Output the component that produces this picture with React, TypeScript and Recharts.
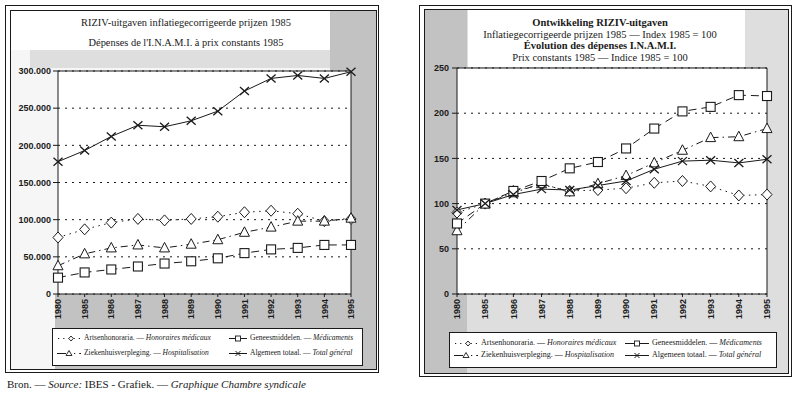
import React from "react";
import {
  CartesianGrid,
  Line,
  LineChart,
  ReferenceLine,
  XAxis,
  YAxis,
} from "recharts";

// jaren op de x-as
const years = ["1980", "1985", "1986", "1987", "1988", "1989", "1990", "1991", "1992", "1993", "1994", "1995"];

// links: prijzen 1985 (absolute bedragen)
const honorairesAbs = [76000, 87000, 96000, 101000, 99000, 101000, 104000, 110000, 112000, 108000, 98000, 101000];
const medicamentsAbs = [22000, 29000, 33000, 37000, 41000, 44000, 48000, 55000, 60000, 62000, 66000, 66000];
const hospitalisationAbs = [38000, 54000, 62000, 66000, 62000, 67000, 73000, 83000, 90000, 98000, 98000, 102000];
const totalAbs = [178000, 193000, 212000, 227000, 225000, 233000, 246000, 273000, 290000, 294000, 290000, 299000];
const absTicks = [0, 50000, 100000, 150000, 200000, 250000, 300000];

// rechts: index 1985 = 100
const honorairesIdx = [90, 100, 114, 121, 114, 115, 117, 123, 125, 119, 109, 110];
const medicamentsIdx = [78, 100, 114, 125, 139, 146, 161, 183, 202, 207, 220, 219];
const hospitalisationIdx = [70, 100, 112, 122, 113, 122, 131, 145, 159, 173, 174, 183];
const totalIdx = [93, 100, 110, 116, 115, 120, 125, 138, 147, 148, 145, 149];
const idxTicks = [0, 50, 100, 150, 200, 250];

const INK = "#1a1a1a";
const SERIF = "'Liberation Serif', 'Times New Roman', 'DejaVu Serif', serif";
const SANS = "'Liberation Sans Narrow', 'Liberation Sans', Arial, sans-serif";
const HEAVY = "#c2c2c2";
const LIGHT = "#dedede";

const absData = years.map((y, i) => ({
  year: y,
  hon: honorairesAbs[i],
  med: medicamentsAbs[i],
  hosp: hospitalisationAbs[i],
  tot: totalAbs[i],
}));

const idxData = years.map((y, i) => ({
  year: y,
  hon: honorairesIdx[i],
  med: medicamentsIdx[i],
  hosp: hospitalisationIdx[i],
  tot: totalIdx[i],
}));

function fmtThousands(v: number): string {
  return String(v).replace(/\B(?=(\d{3})+(?!\d))/g, ".");
}

type DotProps = { cx?: number; cy?: number; index?: number };

function Diamond({ cx = 0, cy = 0 }: DotProps) {
  return (
    <path
      d={`M${cx},${cy - 5.5}L${cx + 5},${cy}L${cx},${cy + 5.5}L${cx - 5},${cy}Z`}
      fill="#fff"
      stroke={INK}
      strokeWidth={1}
    />
  );
}

function Square({ cx = 0, cy = 0 }: DotProps) {
  return <rect x={cx - 4.5} y={cy - 4.5} width={9} height={9} fill="#fff" stroke={INK} strokeWidth={1.1} />;
}

function Triangle({ cx = 0, cy = 0 }: DotProps) {
  return (
    <path
      d={`M${cx},${cy - 5.5}L${cx + 5},${cy + 4}L${cx - 5},${cy + 4}Z`}
      fill="#fff"
      stroke={INK}
      strokeWidth={1}
    />
  );
}

function Cross({ cx = 0, cy = 0 }: DotProps) {
  return (
    <path
      d={`M${cx - 4.5},${cy - 4}L${cx + 4.5},${cy + 4}M${cx - 4.5},${cy + 4}L${cx + 4.5},${cy - 4}`}
      stroke={INK}
      strokeWidth={1.3}
      fill="none"
    />
  );
}

const dotFn = (Shape: (p: DotProps) => React.ReactElement) => (p: any) => (
  <g key={`d-${p.index}`}>
    <Shape cx={p.cx} cy={p.cy} />
  </g>
);

function YearTick({ x, y, payload }: any) {
  return (
    <text
      transform={`translate(${x},${y + 1}) rotate(-90)`}
      textAnchor="end"
      dy="0.35em"
      fontSize={9}
      fontWeight={700}
      fontFamily={SANS}
      fill={INK}
    >
      {payload.value}
    </text>
  );
}

const yTickStyle = { fontSize: 9, fontWeight: 700, fill: INK, fontFamily: SANS };

function Series() {
  return [
    <Line key="hon" dataKey="hon" stroke={INK} strokeWidth={1} strokeDasharray="1.5 4.5" dot={dotFn(Diamond)} isAnimationActive={false} />,
    <Line key="hosp" dataKey="hosp" stroke={INK} strokeWidth={1} strokeDasharray="7 4 1.5 4" dot={dotFn(Triangle)} isAnimationActive={false} />,
    <Line key="med" dataKey="med" stroke={INK} strokeWidth={1} strokeDasharray="8 5" dot={dotFn(Square)} isAnimationActive={false} />,
    <Line key="tot" dataKey="tot" stroke={INK} strokeWidth={1} dot={dotFn(Cross)} isAnimationActive={false} />,
  ];
}

function Sample({ kind, w }: { kind: "hon" | "med" | "hosp" | "tot"; w: number }) {
  const cy = 4.5;
  const m = w / 2;
  let line: React.ReactNode = null;
  let mark: React.ReactNode = null;
  if (kind === "hon") {
    line = <line x1={1} x2={w} y1={cy} y2={cy} stroke={INK} strokeDasharray="1.2 4" strokeWidth={1.2} />;
    mark = <path d={`M${m + 2},${cy - 2.5}L${m + 4.3},${cy}L${m + 2},${cy + 2.5}L${m - 0.3},${cy}Z`} fill="#fff" stroke={INK} strokeWidth={0.9} />;
  } else if (kind === "med") {
    line = <line x1={0} x2={w} y1={cy} y2={cy} stroke={INK} strokeWidth={1} />;
    mark = <rect x={m - 2.5} y={cy - 2.5} width={5} height={5} fill="#fff" stroke={INK} strokeWidth={0.9} />;
  } else if (kind === "hosp") {
    line = <line x1={0} x2={w} y1={cy} y2={cy} stroke={INK} strokeDasharray={`${m - 3} 8 1.2 4`} strokeWidth={1} />;
    mark = <path d={`M${m},${cy - 3}L${m + 3},${cy + 2}L${m - 3},${cy + 2}Z`} fill="#fff" stroke={INK} strokeWidth={0.9} />;
  } else {
    line = <line x1={0} x2={w} y1={cy} y2={cy} stroke={INK} strokeWidth={1} />;
    mark = <path d={`M${m - 2.5},${cy - 2.5}L${m + 2.5},${cy + 2.5}M${m - 2.5},${cy + 2.5}L${m + 2.5},${cy - 2.5}`} stroke={INK} strokeWidth={1} />;
  }
  return (
    <svg width={w} height={9} style={{ display: "inline-block", verticalAlign: "middle", marginRight: 3 }}>
      {line}
      {mark}
    </svg>
  );
}

function LegendItem({ kind, nl, fr, x, y, w, fs }: any) {
  return (
    <div
      style={{
        position: "absolute",
        left: x,
        top: y,
        whiteSpace: "nowrap",
        fontFamily: SERIF,
        fontSize: fs,
        lineHeight: "10px",
        color: INK,
      }}
    >
      <Sample kind={kind} w={w} />
      {nl} — <i>{fr}</i>
    </div>
  );
}

function Legend({ left, top, width, height, col2, row1, row2, w1, w2, fs }: any) {
  return (
    <div
      style={{
        position: "absolute",
        left,
        top,
        width,
        height,
        background: "#fff",
        border: `1px solid ${INK}`,
        boxSizing: "border-box",
      }}
    >
      <LegendItem kind="hon" nl="Artsenhonoraria." fr="Honoraires médicaux" x={4} y={row1} w={w1} fs={fs} />
      <LegendItem kind="med" nl="Geneesmiddelen." fr="Médicaments" x={col2} y={row1} w={w2} fs={fs} />
      <LegendItem kind="hosp" nl="Ziekenhuisverpleging." fr="Hospitalisation" x={4} y={row2} w={w1} fs={fs} />
      <LegendItem kind="tot" nl="Algemeen totaal." fr="Total général" x={col2} y={row2} w={w2} fs={fs} />
    </div>
  );
}

const box = (left: number, top: number, width: number, height: number, bg: string, extra?: any) => (
  <div style={{ position: "absolute", left, top, width, height, background: bg, ...extra }} />
);

export default function App() {
  return (
    <div
      style={{
        position: "absolute",
        left: 0,
        top: 0,
        width: 800,
        height: 396,
        background: "#fff",
        overflow: "hidden",
        fontFamily: SERIF,
      }}
    >
      {/* linker paneel */}
      {box(5, 5, 374, 368, "#fff", { border: `1px solid ${INK}`, boxSizing: "border-box" })}
      {box(10, 10, 367, 360, "#f6f6f6", { border: `1px solid ${INK}`, boxSizing: "border-box" })}
      {box(330, 11, 46, 358, HEAVY)}
      {box(55, 294, 321, 75, HEAVY)}
      {box(30, 50, 300, 18, LIGHT)}
      {box(11, 11, 319, 39, "#fff")}
      <div style={{ position: "absolute", left: 31, top: 13, width: 310, textAlign: "center", fontSize: 10.4, lineHeight: "20px", color: INK }}>
        <div>RIZIV-uitgaven inflatiegecorrigeerde prijzen 1985</div>
        <div>Dépenses de l'I.N.A.M.I. à prix constants 1985</div>
      </div>
      <div style={{ position: "absolute", left: 0, top: 0 }}>
        <LineChart width={380} height={330} data={absData} margin={{ top: 71, right: 29, bottom: 0, left: 8 }}>
          <CartesianGrid vertical={false} stroke={INK} strokeDasharray="2 5" fill="#fff" fillOpacity={1} />
          <XAxis dataKey="year" height={36} interval={0} tick={<YearTick />} tickSize={3} tickMargin={1} axisLine={{ stroke: INK }} tickLine={{ stroke: INK }} />
          <YAxis
            width={50}
            domain={[0, 300000]}
            ticks={absTicks}
            tickFormatter={fmtThousands}
            tick={yTickStyle}
            tickSize={5}
            tickMargin={2}
            axisLine={{ stroke: INK }}
            tickLine={{ stroke: INK }}
          />
          <ReferenceLine y={300000} stroke={INK} />
          <ReferenceLine x="1995" stroke={INK} />
          {Series()}
        </LineChart>
      </div>
      <Legend left={52} top={328} width={311} height={38} col2={176} row1={4} row2={19} w1={24} w2={18} fs={7.5} />

      {/* rechter paneel */}
      {box(419, 5, 373, 372, "#fff", { border: `1px solid ${INK}`, boxSizing: "border-box" })}
      {box(424, 9, 365, 365, LIGHT, { border: `1px solid ${INK}`, boxSizing: "border-box" })}
      {box(425, 10, 42, 363, HEAVY)}
      {box(468, 10, 277, 57, "#fff")}
      <div style={{ position: "absolute", left: 450, top: 17, width: 300, textAlign: "center", fontSize: 10.5, lineHeight: "11.5px", color: INK }}>
        <div style={{ fontWeight: 700 }}>Ontwikkeling RIZIV-uitgaven</div>
        <div>Inflatiegecorrigeerde prijzen 1985 — Index 1985 = 100</div>
        <div style={{ fontWeight: 700 }}>Évolution des dépenses I.N.A.M.I.</div>
        <div>Prix constants 1985 — Indice 1985 = 100</div>
      </div>
      <div style={{ position: "absolute", left: 400, top: 0 }}>
        <LineChart width={390} height={330} data={idxData} margin={{ top: 68, right: 23, bottom: 0, left: 7 }}>
          <CartesianGrid vertical={false} stroke={INK} strokeDasharray="2 5" fill="#fff" fillOpacity={1} />
          <XAxis dataKey="year" height={36} interval={0} tick={<YearTick />} tickSize={3} tickMargin={1} axisLine={{ stroke: INK }} tickLine={{ stroke: INK }} />
          <YAxis
            width={50}
            domain={[0, 250]}
            ticks={idxTicks}
            tick={yTickStyle}
            tickSize={5}
            tickMargin={3}
            axisLine={{ stroke: INK }}
            tickLine={{ stroke: INK }}
          />
          <ReferenceLine y={250} stroke={INK} />
          <ReferenceLine x="1995" stroke={INK} />
          {Series()}
        </LineChart>
      </div>
      <Legend left={449} top={332} width={328} height={36} col2={175} row1={5} row2={17} w1={24} w2={24} fs={8} />

      <div style={{ position: "absolute", left: 7, top: 378, fontSize: 11, color: INK, whiteSpace: "nowrap" }}>
        Bron. — <i>Source:</i> IBES - Grafiek. — <i>Graphique Chambre syndicale</i>
      </div>
    </div>
  );
}
